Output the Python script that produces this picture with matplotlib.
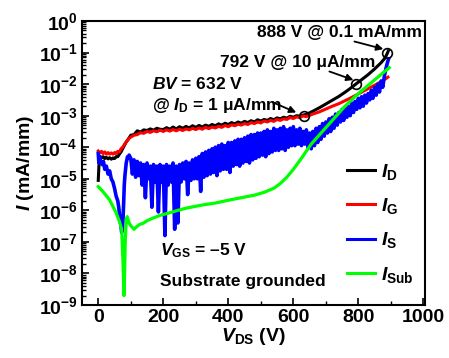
import numpy as np
import matplotlib
matplotlib.use('Agg')
import matplotlib.pyplot as plt
from matplotlib.ticker import FixedLocator, FuncFormatter, LogLocator, NullFormatter, MultipleLocator

plt.rcParams['font.family'] = ['Liberation Sans', 'DejaVu Sans']
plt.rcParams['font.weight'] = 'bold'
plt.rcParams['axes.labelweight'] = 'bold'
plt.rcParams['mathtext.fontset'] = 'custom'
plt.rcParams['mathtext.rm'] = 'Liberation Sans:bold'
plt.rcParams['mathtext.bf'] = 'Liberation Sans:bold'
plt.rcParams['mathtext.it'] = 'Liberation Sans:italic:bold'

# ---------------- data (log10 of current in mA/mm) ----------------
# I_D (black)
vd = [0, 2, 4, 6, 10, 15, 20, 25, 30, 35, 40, 45, 50, 55, 60, 65, 70, 75, 80, 85, 90, 95,
      100, 110, 120, 130, 140, 150, 160, 170, 180, 190, 200, 210, 220, 230, 240, 250, 260, 270,
      280, 290, 300, 310, 320, 330, 340, 350, 360, 370, 380, 390, 400, 410, 420, 430, 440, 450,
      460, 470, 480, 490, 500, 510, 520, 530, 540, 550, 560, 570, 580, 590, 600, 610, 620, 630,
      640, 660, 680, 700, 720, 740, 760, 780, 792, 810, 830, 850, 870, 880, 888, 892]
log_id = [-5.05, -4.6, -4.35, -4.3, -4.33, -4.3, -4.36, -4.32, -4.37, -4.33, -4.38, -4.34, -4.36,
          -4.3, -4.3, -4.22, -4.15, -4.05, -3.95, -3.85, -3.78, -3.7,
          -3.62, -3.6, -3.48, -3.52, -3.45, -3.47, -3.42, -3.46, -3.4, -3.43, -3.44, -3.38, -3.43,
          -3.36, -3.42, -3.35, -3.4, -3.34, -3.39, -3.32, -3.37, -3.31, -3.36, -3.3, -3.34, -3.28,
          -3.32, -3.26, -3.3, -3.24, -3.28, -3.22, -3.26, -3.2, -3.24, -3.18, -3.22, -3.16, -3.2,
          -3.13, -3.17, -3.12, -3.15, -3.09, -3.13, -3.07, -3.1, -3.05, -3.08, -3.02, -3.05, -3.0,
          -3.02, -2.98, -2.96, -2.86, -2.75, -2.63, -2.51, -2.39, -2.25, -2.1, -2.0, -1.86, -1.7,
          -1.52, -1.32, -1.2, -1.05, -0.95]

# I_G (red)
vg = [0, 5, 10, 15, 20, 25, 30, 35, 40, 45, 50, 55, 60, 65, 70, 75, 80, 85, 90, 95,
      100, 110, 120, 130, 140, 150, 160, 170, 180, 190, 200, 210, 220, 230, 240, 250, 260, 270,
      280, 290, 300, 310, 320, 330, 340, 350, 360, 370, 380, 390, 400, 410, 420, 430, 440, 450,
      460, 470, 480, 490, 500, 510, 520, 530, 540, 550, 560, 570, 580, 590, 600, 610, 620, 630,
      640, 660, 680, 700, 720, 740, 760, 780, 800, 820, 840, 860, 880, 891]
log_ig = [-4.12, -4.18, -4.13, -4.2, -4.15, -4.22, -4.17, -4.22, -4.18, -4.22, -4.17, -4.2, -4.13,
          -4.15, -4.05, -4.0, -3.92, -3.85, -3.78, -3.72,
          -3.68, -3.62, -3.6, -3.54, -3.56, -3.5, -3.53, -3.48, -3.51, -3.46, -3.5, -3.45, -3.49,
          -3.44, -3.48, -3.43, -3.47, -3.42, -3.45, -3.4, -3.44, -3.39, -3.43, -3.37, -3.41, -3.36,
          -3.39, -3.34, -3.37, -3.31, -3.35, -3.29, -3.32, -3.27, -3.3, -3.25, -3.28, -3.22, -3.25,
          -3.2, -3.23, -3.17, -3.2, -3.15, -3.18, -3.12, -3.15, -3.1, -3.12, -3.06, -3.09, -3.04,
          -3.06, -3.01, -3.03, -2.95, -2.88, -2.79, -2.7, -2.62, -2.52, -2.42, -2.31, -2.2, -2.09,
          -1.98, -1.86, -1.78]

# I_S (blue), noisy trace
vs_low = [0, 2, 5, 8, 12, 16, 20, 25, 30, 35, 40, 45, 50, 55, 60, 63, 66, 69, 72, 74, 76, 78,
          80, 82, 84, 86, 88, 90, 92, 95]
log_is_low = [-4.2, -4.5, -4.3, -4.5, -4.55, -4.45, -4.7, -4.6, -4.85, -4.75, -5.0, -5.1, -5.3,
              -5.55, -5.7, -5.9, -6.2, -6.4, -6.7, -6.6, -6.3, -5.8, -5.2, -4.9, -4.7, -4.5,
              -4.4, -4.3, -4.35, -4.25]
vs_mid = list(range(100, 850, 5))
log_is_mid = [
    -4.35, -4.85, -4.4, -4.95, -4.45, -4.9, -4.5, -5.2, -4.55, -5.6,
    -4.5, -5.0, -4.6, -5.9, -4.55, -5.1, -4.6, -6.05, -4.55, -5.1,
    -4.6, -6.8, -4.55, -5.2, -4.6, -5.1, -4.5, -6.6, -4.6, -6.4,
    -4.55, -5.1, -4.5, -5.0, -4.45, -5.5, -4.5, -5.05, -4.4, -5.0,
    -4.35, -5.0, -4.3, -5.4, -4.2, -4.95, -4.15, -4.9, -4.1, -4.85,
    -4.05, -4.8, -4.0, -4.9, -3.95, -4.75, -3.9, -4.7, -3.95, -4.7,
    -3.85, -4.8, -3.85, -4.6, -3.8, -4.55, -3.75, -4.6, -3.75, -4.5,
    -3.7, -4.45, -3.65, -4.5, -3.6, -4.4, -3.6, -4.35, -3.55, -4.3,
    -3.55, -4.25, -3.5, -4.3, -3.45, -4.2, -3.5, -4.15, -3.4, -4.1,
    -3.45, -4.1, -3.4, -4.05, -3.35, -4.1, -3.45, -4.0, -3.4, -3.95,
    -3.35, -3.95, -3.45, -3.9, -3.4, -3.95, -3.5, -3.9, -3.45, -4.0,
    -3.55, -4.05, -3.5, -3.95, -3.4, -3.85, -3.35, -3.75, -3.25, -3.65,
    -3.2, -3.55, -3.1, -3.5, -3.05, -3.4, -2.95, -3.3, -2.9, -3.2,
    -2.8, -3.15, -2.75, -3.05, -2.7, -3.0, -2.6, -2.9, -2.55, -2.8,
    -2.45, -2.75, -2.4, -2.7, -2.35, -2.6, -2.3, -2.5, -2.2, -2.45]
vs_high = [850, 855, 860, 865, 870, 875, 880, 885, 890, 893]
log_is_high = [-2.1, -2.35, -2.0, -2.25, -1.9, -2.1, -1.75, -1.5, -1.3, -1.2]

# I_Sub (green)
vsub = [0, 14, 35, 55, 65, 72, 76, 79, 81, 83, 86, 89, 95, 101, 110, 118, 127, 140, 150, 167,
        190, 219, 245, 271, 300, 326, 360, 400, 440, 480, 510, 540, 560, 580, 600, 625, 655, 700,
        757, 800, 861, 895]
log_isub = [-5.25, -5.4, -5.67, -6.08, -6.35, -6.6, -7.6, -8.7, -8.0, -7.0, -6.3, -6.2, -6.4,
            -6.5, -6.6, -6.52, -6.45, -6.4, -6.33, -6.25, -6.16, -6.08, -6.0, -5.93, -5.87,
            -5.82, -5.77, -5.68, -5.6, -5.52, -5.43, -5.3, -5.15, -4.95, -4.7, -4.35, -3.9,
            -3.38, -2.72, -2.3, -1.77, -1.48]

# breakdown markers
bv_v = [632, 792, 888]
bv_i = [1e-3, 1e-2, 1e-1]

x_ticks = [0, 200, 400, 600, 800, 1000]
y_exps = list(range(-9, 1))

# ---------------- figure ----------------
fig = plt.figure(figsize=(4.49, 3.58), dpi=100)
ax = fig.add_axes([82/449, 1-305/358, (425-82)/449, (305-21)/358])

vs = vs_low + vs_mid + vs_high
log_is = log_is_low + log_is_mid + log_is_high

lw = 2.2
ax.plot(vd, 10**np.array(log_id), color='black', lw=lw, label=r'$I_\mathrm{D}$')
ax.plot(vg, 10**np.array(log_ig), color='#ff0000', lw=lw, label=r'$I_\mathrm{G}$')
ax.plot(vs, 10**np.array(log_is), color='#0000ff', lw=2.6, label=r'$I_\mathrm{S}$')
ax.plot(vsub, 10**np.array(log_isub), color='#00ff00', lw=2.3, label=r'$I_\mathrm{Sub}$')
ax.plot(bv_v, bv_i, 'o', ms=7, mfc='none', mec='black', mew=1.2)

ax.set_yscale('log')
ax.set_xlim(-50, 1005)
ax.set_ylim(1e-9, 1)
ax.xaxis.set_major_locator(FixedLocator(x_ticks))
ax.xaxis.set_minor_locator(MultipleLocator(100))
ax.yaxis.set_major_locator(FixedLocator([10.0**e for e in y_exps]))
ax.yaxis.set_minor_locator(LogLocator(base=10, subs=np.arange(2, 10), numticks=20))
ax.yaxis.set_minor_formatter(NullFormatter())
ax.yaxis.set_major_formatter(FuncFormatter(
    lambda v, p: r'$\mathrm{10}^{\mathrm{%d}}$' % int(round(np.log10(v)))))
ax.tick_params(which='both', direction='in', top=False, right=False, labelsize=14, pad=3)
ax.tick_params(which='major', length=5, width=1.2)
ax.tick_params(which='minor', length=3, width=1.0)
for s in ax.spines.values():
    s.set_linewidth(1.5)
for lab in ax.get_xticklabels() + ax.get_yticklabels():
    lab.set_fontweight('bold')

ax.set_xlabel(r'$V_\mathrm{DS}$ (V)', fontsize=14, fontweight='bold', labelpad=0)
ax.set_ylabel(r'$I$ (mA/mm)', fontsize=14, fontweight='bold', labelpad=2)

tf = 12.5
ax.text(0.99, 0.96, '888 V @ 0.1 mA/mm', transform=ax.transAxes, ha='right', va='center', fontsize=tf)
ax.text(0.402, 0.854, '792 V @ 10 μA/mm', transform=ax.transAxes, ha='left', va='center', fontsize=tf)
ax.text(0.203, 0.779, r'$BV$ = 632 V', transform=ax.transAxes, ha='left', va='center', fontsize=tf)
ax.text(0.203, 0.704, r'@ $I_\mathrm{D}$ = 1 μA/mm', transform=ax.transAxes, ha='left', va='center', fontsize=tf)
ax.text(0.227, 0.19, r'$V_\mathrm{GS}$ = –5 V', transform=ax.transAxes, ha='left', va='center', fontsize=tf)
ax.text(0.227, 0.081, 'Substrate grounded', transform=ax.transAxes, ha='left', va='center', fontsize=tf)

ap = dict(arrowstyle='-|>', color='black', lw=1.3, mutation_scale=10, shrinkA=0, shrinkB=0)
ax.annotate('', xy=(877, 10**-0.89), xytext=(788, 10**-0.65), arrowprops=ap)
ax.annotate('', xy=(785, 10**-1.87), xytext=(711, 10**-1.6), arrowprops=ap)
ax.annotate('', xy=(609, 10**-2.9), xytext=(542, 10**-2.6), arrowprops=ap)

leg = ax.legend(loc='lower right', bbox_to_anchor=(1.0, 0.03), frameon=False, fontsize=14,
                handlelength=1.45, handletextpad=0.3, labelspacing=0.74, borderaxespad=0.2)
for h in leg.get_lines():
    h.set_linewidth(2.2)

fig.savefig('out.png', dpi=100)
